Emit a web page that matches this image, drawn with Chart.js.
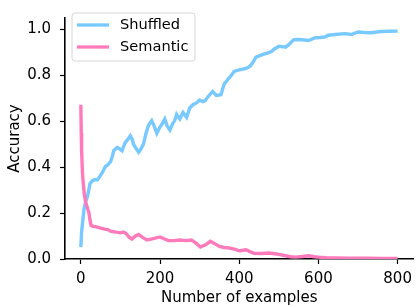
<!DOCTYPE html>
<html>
<head>
<meta charset="utf-8">
<script src="https://cdn.jsdelivr.net/npm/chart.js@4"></script>
<style>
html,body{margin:0;padding:0;background:#fff;}
#wrap{width:418px;height:307px;position:relative;}
</style>
</head>
<body>
<div id="wrap"><canvas id="c" width="418" height="307"></canvas></div>
<script>
// ---- data ----
const shuffledX = [0,2,5,8,12,17,20,23,29,35,42,48,54,62,68,75,80,83,88,92,98,104,108,112,118,125,130,133,140,146,152,158,165,171,179,185,192,200,206,212,218,225,232,237,242,246,250,258,267,275,283,292,300,308,314,321,333,342,354,358,362,371,380,387,400,417,425,429,436,442,450,458,467,475,483,487,500,510,517,525,537,547,558,575,592,605,617,625,642,667,683,700,715,733,758,780,800];
const shuffledY = [0.052,0.12,0.17,0.217,0.25,0.273,0.30,0.328,0.341,0.345,0.345,0.36,0.376,0.403,0.41,0.424,0.45,0.472,0.48,0.486,0.48,0.472,0.49,0.507,0.52,0.537,0.52,0.50,0.48,0.465,0.48,0.50,0.55,0.583,0.603,0.58,0.548,0.576,0.59,0.61,0.58,0.562,0.59,0.603,0.63,0.62,0.61,0.638,0.617,0.658,0.672,0.68,0.693,0.686,0.69,0.707,0.73,0.713,0.716,0.74,0.762,0.782,0.80,0.817,0.824,0.83,0.837,0.844,0.86,0.879,0.885,0.89,0.895,0.899,0.906,0.913,0.927,0.925,0.923,0.934,0.955,0.956,0.955,0.952,0.964,0.965,0.968,0.975,0.978,0.982,0.978,0.989,0.987,0.986,0.991,0.992,0.993];

const semanticX = [0,1,2,4,6,9,12,17,20,23,26,30,40,50,60,68,75,85,100,108,115,122,129,138,146,155,167,180,200,210,221,235,250,265,279,290,302,315,327,337,350,362,375,390,400,410,417,427,437,455,475,485,500,517,530,542,560,575,590,600,620,642,680,725,760,800];
const semanticY = [0.672,0.55,0.47,0.38,0.33,0.28,0.25,0.22,0.205,0.17,0.146,0.143,0.14,0.135,0.13,0.128,0.121,0.118,0.114,0.117,0.11,0.095,0.087,0.10,0.107,0.095,0.083,0.088,0.096,0.088,0.080,0.080,0.083,0.080,0.083,0.07,0.052,0.062,0.077,0.068,0.055,0.05,0.048,0.042,0.036,0.038,0.04,0.032,0.025,0.024,0.026,0.024,0.02,0.014,0.01,0.008,0.011,0.014,0.01,0.008,0.006,0.005,0.004,0.003,0.002,0.002];

const xTicks = [0,200,400,600,800];
const yTicks = [0.0,0.2,0.4,0.6,0.8,1.0];
const seriesLabels = ['Shuffled','Semantic'];
const seriesColors = ['#78c9ff','#ff7abb'];

const toPts = (xs, ys) => xs.map((x,i)=>({x:x, y:ys[i]}));

const FONT = 'DejaVu Sans';
Chart.defaults.font.family = FONT;
Chart.defaults.color = '#000';

const boxLegend = {
  id: 'boxLegend',
  afterDraw(chart) {
    const ctx = chart.ctx;
    ctx.save();
    const bx = 72, by = 13, bw = 123, bh = 48, r = 3;
    ctx.beginPath();
    ctx.moveTo(bx + r, by);
    ctx.arcTo(bx + bw, by, bx + bw, by + bh, r);
    ctx.arcTo(bx + bw, by + bh, bx, by + bh, r);
    ctx.arcTo(bx, by + bh, bx, by, r);
    ctx.arcTo(bx, by, bx + bw, by, r);
    ctx.closePath();
    ctx.fillStyle = 'rgba(255,255,255,0.8)';
    ctx.fill();
    ctx.strokeStyle = '#d6d6d6';
    ctx.lineWidth = 1;
    ctx.stroke();
    ctx.font = '14.6px "' + FONT + '"';
    ctx.textBaseline = 'middle';
    ctx.textAlign = 'left';
    chart.data.datasets.forEach((ds, i) => {
      const yy = 25 + i * 22;
      ctx.beginPath();
      ctx.moveTo(77, yy);
      ctx.lineTo(109, yy);
      ctx.strokeStyle = ds.borderColor;
      ctx.lineWidth = 3.3;
      ctx.stroke();
      ctx.fillStyle = '#000';
      ctx.fillText(ds.label, 120, yy + 0.5);
    });
    ctx.restore();
  }
};

new Chart(document.getElementById('c'), {
  type: 'line',
  data: {
    datasets: [
      { label: seriesLabels[0], data: toPts(shuffledX, shuffledY), borderColor: seriesColors[0], borderWidth: 3.4, pointRadius: 0, tension: 0, fill: false, order: 1 },
      { label: seriesLabels[1], data: toPts(semanticX, semanticY), borderColor: seriesColors[1], borderWidth: 3.4, pointRadius: 0, tension: 0, fill: false, order: 0 }
    ]
  },
  options: {
    responsive: false,
    animation: false,
    events: [],
    layout: { padding: { top: 5, right: 1, left: 0, bottom: 0 } },
    plugins: { legend: { display: false }, tooltip: { enabled: false } },
    scales: {
      x: {
        type: 'linear',
        min: -40, max: 840,
        afterBuildTicks: s => { s.ticks = xTicks.map(v => ({ value: v })); },
        afterFit: s => { s.height = 48; },
        ticks: { font: { size: 15 }, padding: 6, maxRotation: 0, callback: v => String(v) },
        grid: { drawOnChartArea: false, drawTicks: true, tickLength: 5, tickWidth: 1.2, tickColor: '#000' },
        border: { display: true, color: '#000', width: 1.6 },
        title: { display: true, text: 'Number of examples', font: { size: 15 }, padding: { top: 0, bottom: 0 } }
      },
      y: {
        type: 'linear',
        min: 0, max: 1.05,
        afterBuildTicks: s => { s.ticks = yTicks.map(v => ({ value: v })); },
        afterFit: s => { s.width = 65; },
        ticks: { font: { size: 15 }, padding: 9, callback: v => v.toFixed(1) },
        grid: { drawOnChartArea: false, drawTicks: true, tickLength: 5, tickWidth: 1.2, tickColor: '#000' },
        border: { display: true, color: '#000', width: 1.6 },
        title: { display: true, text: 'Accuracy', font: { size: 15 }, padding: { top: 6, bottom: 0 } }
      }
    }
  },
  plugins: [boxLegend]
});
</script>
</body>
</html>
